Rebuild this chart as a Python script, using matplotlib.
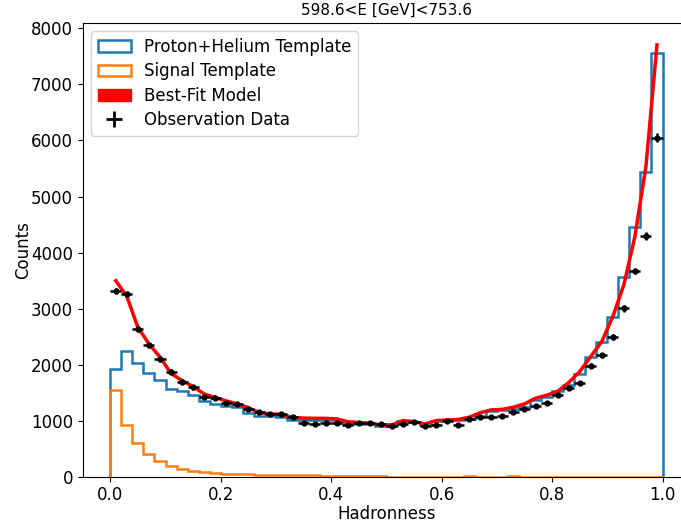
import numpy as np
import matplotlib
matplotlib.use("Agg")
import matplotlib.pyplot as plt
from matplotlib.patches import Patch
from matplotlib.lines import Line2D

plt.rcParams['font.size'] = 12

# 50 bins of hadronness, 0..1
bin_edges = np.linspace(0, 1, 51)
bin_centers = 0.5 * (bin_edges[:-1] + bin_edges[1:])

proton_helium = [
    1930, 2250, 2040, 1860, 1740, 1580, 1540, 1460, 1360, 1300,
    1270, 1260, 1150, 1100, 1085, 1080, 1020, 1012, 1015, 1025,
    1018, 970, 952, 950, 910, 918, 1000, 980, 927, 1003,
    1016, 1028, 1030, 1087, 1176, 1194, 1217, 1253, 1385, 1431,
    1538, 1652, 1836, 2145, 2406, 2847, 3570, 4450, 5442, 7553,
]

signal = [
    1550, 940, 605, 410, 290, 196, 148, 107, 89, 71,
    55, 52, 50, 48, 45, 42, 40, 38, 35, 25,
    22, 20, 18, 16, 15, 12, 10, 10, 8, 8,
    6, 8, 20, 6, 5, 5, 20, 4, 4, 3,
    3, 3, 3, 2, 2, 2, 2, 2, 1, 0,
]

best_fit = [
    3500, 3220, 2670, 2375, 2140, 1850, 1722, 1615, 1485, 1420,
    1360, 1307, 1240, 1150, 1130, 1120, 1065, 1055, 1050, 1050,
    1040, 990, 975, 965, 930, 935, 1010, 990, 950, 1010,
    1020, 1030, 1070, 1150, 1200, 1210, 1248, 1307, 1408, 1460,
    1530, 1686, 1882, 2150, 2417, 2863, 3428, 4289, 5537, 7700,
]

observed = [
    3320, 3260, 2645, 2350, 2100, 1880, 1705, 1600, 1425, 1420,
    1325, 1300, 1215, 1160, 1123, 1130, 1065, 968, 945, 968,
    968, 932, 975, 968, 957, 915, 945, 978, 915, 932,
    998, 932, 1040, 1082, 1082, 1100, 1164, 1217, 1270, 1324,
    1460, 1592, 1681, 1984, 2175, 2501, 3007, 3672, 4296, 6048,
]

title = "598.6<E [GeV]<753.6"

fig = plt.figure(figsize=(6.81, 5.23), dpi=100)
# the frame runs a little past the right edge of the image, as in the original
ax = fig.add_axes([0.1214, 0.0874, 0.892, 0.8686])

ax.hist(bin_centers, bins=bin_edges, weights=proton_helium, histtype='step',
        color='C0', linewidth=1.8, zorder=2)
ax.hist(bin_centers, bins=bin_edges, weights=signal, histtype='step',
        color='C1', linewidth=1.8, zorder=2)
ax.plot(bin_centers, best_fit, color='red', linewidth=2.5, zorder=3)

obs = np.array(observed)
ax.errorbar(bin_centers, obs, xerr=0.01, yerr=np.sqrt(obs), fmt='o',
            color='k', markersize=3.5, elinewidth=1.8, zorder=4)

handles = [
    Patch(facecolor='none', edgecolor='C0', linewidth=1.8),
    Patch(facecolor='none', edgecolor='C1', linewidth=1.8),
    Patch(facecolor='red', edgecolor='red'),
    Line2D([], [], color='k', marker='+', linestyle='none',
           markersize=12, markeredgewidth=2),
]
labels = ['Proton+Helium Template', 'Signal Template', 'Best-Fit Model',
          'Observation Data']
ax.legend(handles, labels, loc='upper left', fontsize=12, labelspacing=0.38)

ax.set_xlim(-0.05, 1.05)
ax.set_ylim(0, 8090)
ax.spines['right'].set_visible(False)
ax.tick_params(labelsize=12)
ax.tick_params(axis='x', pad=2.5)
ax.set_xlabel('Hadronness', fontsize=12)
ax.set_ylabel('Counts', fontsize=12)
ax.xaxis.set_label_coords(0.5, -0.061)
ax.yaxis.set_label_coords(-0.083, 0.5)
ax.set_title(title, fontsize=11)

fig.savefig('out.png', dpi=100)
